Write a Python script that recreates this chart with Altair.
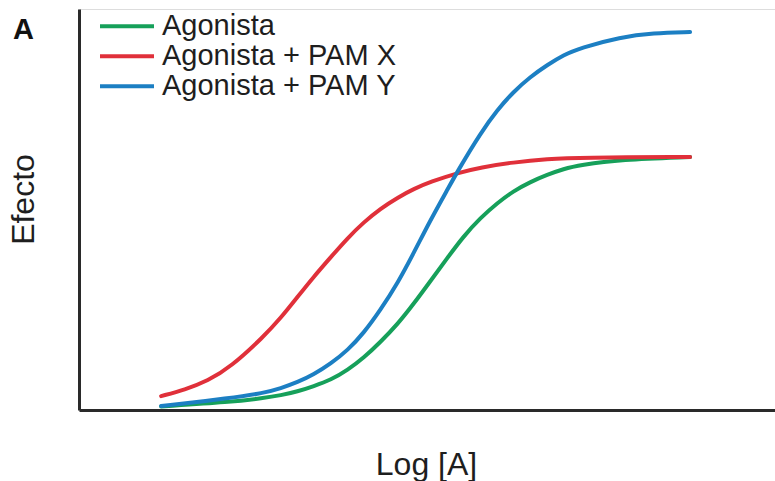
import altair as alt
import pandas as pd

# Log agonist concentration (arbitrary units) and effect (% of the agonist maximum)
series_names = ["Agonista", "Agonista + PAM X", "Agonista + PAM Y"]

agonist_x = [1.18, 2.18, 2.65, 2.90, 3.14, 3.37, 3.62, 3.86, 4.09, 4.33, 4.58, 4.81, 5.05, 5.29,
             5.52, 5.77, 6.01, 6.24, 6.48, 6.73, 6.96, 7.20, 7.78, 8.78]
agonist_y = [1.4, 3.2, 4.7, 5.8, 7.3, 9.4, 11.9, 15.8, 20.6, 26.8, 34.0, 42.0, 51.0, 60.0,
             68.5, 76.0, 81.8, 86.5, 90.1, 93.0, 95.3, 96.8, 99.0, 100.0]

pam_x_x = [1.18, 1.52, 1.85, 2.18, 2.65, 2.90, 3.14, 3.37, 3.62, 3.86, 4.09, 4.33, 4.58, 4.81,
           5.05, 5.45, 5.77, 6.24, 6.73, 7.20, 8.78]
pam_x_y = [5.5, 8.0, 11.5, 17.0, 28.9, 36.4, 44.7, 52.6, 60.5, 68.0, 74.2, 79.6, 84.0, 87.4,
           90.2, 93.8, 95.9, 97.9, 99.2, 99.8, 100.0]

pam_y_x = [1.18, 2.18, 2.65, 2.90, 3.14, 3.37, 3.62, 3.86, 4.09, 4.33, 4.58, 4.81, 5.05, 5.29,
           5.45, 5.77, 6.01, 6.24, 6.48, 6.73, 6.96, 7.20, 7.78, 8.25, 8.78]
pam_y_y = [1.6, 4.7, 6.7, 8.6, 11.0, 14.0, 18.4, 23.6, 30.4, 39.5, 50.2, 62.1, 75.1, 86.9,
           94.9, 109.5, 118.6, 125.7, 131.6, 136.4, 140.3, 143.1, 147.4, 149.0, 149.4]

series_colors = ["#16a05a", "#e0303a", "#1c7fc3"]

frames = []
for name, xs, ys in zip(series_names, [agonist_x, pam_x_x, pam_y_x], [agonist_y, pam_x_y, pam_y_y]):
    frames.append(pd.DataFrame({"logA": xs, "efecto": ys, "serie": name}))
df = pd.concat(frames, ignore_index=True)

font = "Liberation Sans"
ink = "#1e1e1e"

curves = alt.Chart(df).mark_line(
    strokeWidth=4, interpolate="basis", strokeCap="round"
).encode(
    x=alt.X(
        "logA:Q",
        scale=alt.Scale(domain=[0, 10], nice=False, zero=False),
        axis=alt.Axis(
            title="Log [A]", labels=False, ticks=False, grid=False,
            domainColor="#2a2a2a", domainWidth=3,
            titleFont=font, titleFontSize=32, titleFontWeight="normal",
            titleColor=ink, titleX=347, titleY=64, titleBaseline="alphabetic",
            titleAlign="center",
        ),
    ),
    y=alt.Y(
        "efecto:Q",
        scale=alt.Scale(domain=[0, 158.5], nice=False, zero=False),
        axis=alt.Axis(
            title="Efecto", labels=False, ticks=False, grid=False,
            domainColor="#2a2a2a", domainWidth=3,
            titleFont=font, titleFontSize=32, titleFontWeight="normal",
            titleColor=ink, titleX=-46, titleY=190, titleBaseline="alphabetic",
            titleAlign="center", titleAngle=270,
        ),
    ),
    color=alt.Color(
        "serie:N",
        scale=alt.Scale(domain=series_names, range=series_colors),
        sort=series_names,
        legend=alt.Legend(
            title=None, orient="none", legendX=19, legendY=3,
            symbolType="stroke", symbolSize=2916, symbolStrokeWidth=4,
            labelFont=font, labelFontSize=29, labelColor=ink, labelLimit=0,
            labelOffset=6, rowPadding=0, clipHeight=28.6,
        ),
    ),
    order=alt.Order("logA:Q"),
)

panel_label = alt.Chart(pd.DataFrame({"t": ["A"]})).mark_text(
    font=font, fontSize=29, fontWeight="bold", color="#111", align="left", baseline="alphabetic"
).encode(x=alt.value(-66), y=alt.value(30), text="t:N")

chart = alt.layer(curves, panel_label).properties(
    width=696, height=401,
    autosize=alt.AutoSizeParams(type="none"),
    padding={"left": 79, "top": 9, "right": 0, "bottom": 71},
).configure_view(stroke=None).configure(background="white")

chart.save("out.html", embed_options={"renderer": "svg", "actions": False})
